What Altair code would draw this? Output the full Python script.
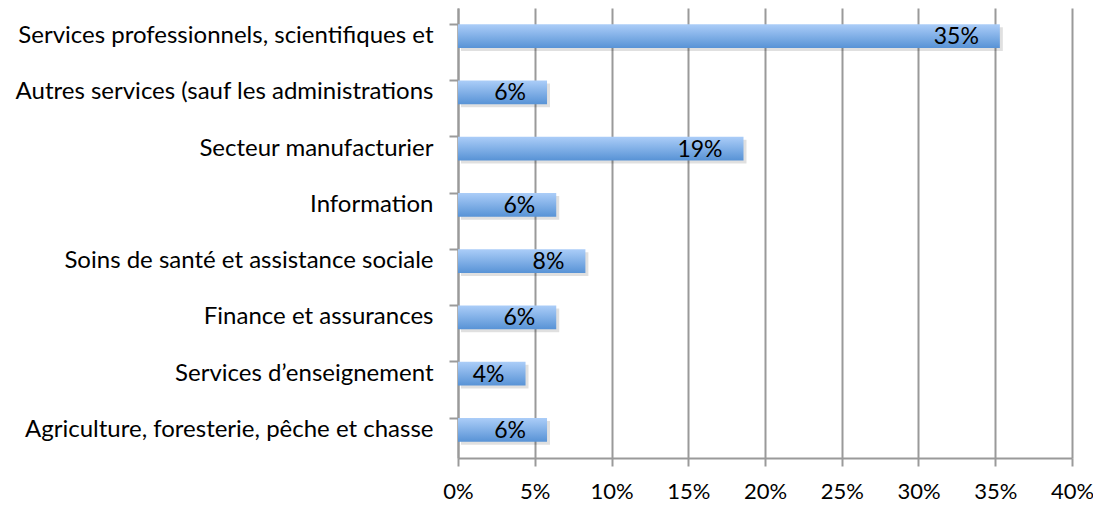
import altair as alt
import pandas as pd

categories = [
    "Services professionnels, scientifiques et",
    "Autres services (sauf les administrations",
    "Secteur manufacturier",
    "Information",
    "Soins de santé et assistance sociale",
    "Finance et assurances",
    "Services d’enseignement",
    "Agriculture, foresterie, pêche et chasse",
]
values = [0.353, 0.058, 0.186, 0.064, 0.083, 0.064, 0.044, 0.058]
x_ticks = [0, 0.05, 0.10, 0.15, 0.20, 0.25, 0.30, 0.35, 0.40]

df = pd.DataFrame({"cat": categories, "val": values})

FONT = "Lato"
GRID = "#9a9a9a"

y_enc = alt.Y(
    "cat:N",
    sort=categories,
    title=None,
    scale=alt.Scale(paddingInner=0.58, paddingOuter=0.29),
    axis=alt.Axis(
        bandPosition=0,
        tickSize=9,
        tickWidth=2,
        tickColor=GRID,
        domainColor=GRID,
        domainWidth=2,
        labelPadding=16,
        labelLimit=600,
        labelFont=FONT,
        labelFontSize=24,
        labelColor="black",
        grid=False,
    ),
)
x_enc = alt.X(
    "val:Q",
    title=None,
    scale=alt.Scale(domain=[0, 0.4], nice=False, zero=True),
    axis=alt.Axis(
        values=x_ticks,
        format=".0%",
        tickSize=8,
        tickWidth=2,
        tickColor=GRID,
        domainColor=GRID,
        domainWidth=2,
        gridColor=GRID,
        gridWidth=2,
        labelPadding=15,
        labelFlush=False,
        labelFont=FONT,
        labelFontSize=22,
        labelColor="black",
    ),
)

base = alt.Chart(df)

shadow = base.mark_bar(color="#000000", opacity=0.12, xOffset=3, yOffset=3).encode(
    x=alt.X("val:Q", scale=alt.Scale(domain=[0, 0.4], nice=False)),
    y=alt.Y("cat:N", sort=categories),
)

bars = base.mark_bar(
    color=alt.Gradient(
        gradient="linear",
        stops=[
            alt.GradientStop(color="#abcdf8", offset=0),
            alt.GradientStop(color="#5893d6", offset=1),
        ],
        x1=0, x2=0, y1=0, y2=1,
    )
).encode(x=x_enc, y=y_enc)

labels = base.mark_text(
    align="right", baseline="middle", dx=-21, dy=1, font=FONT, fontSize=23, color="black"
).encode(
    x=alt.X("val:Q"),
    y=alt.Y("cat:N", sort=categories),
    text=alt.Text("val:Q", format=".0%"),
)

chart = (
    alt.layer(shadow, bars, labels)
    .properties(
        width=614,
        height=450,
        autosize=alt.AutoSizeParams(type="none"),
        padding={"left": 450, "top": 0, "right": 21, "bottom": 46},
    )
    .configure_view(stroke=None)
    .configure_axis(labelFont=FONT)
)

chart.save("out.html", embed_options={"renderer": "svg", "actions": False})
